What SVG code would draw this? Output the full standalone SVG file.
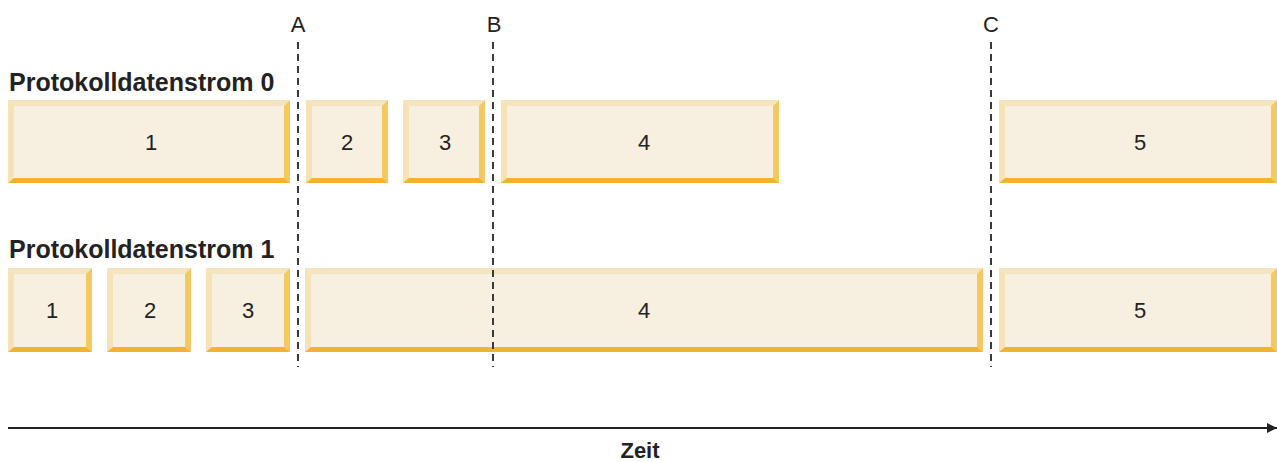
<svg xmlns="http://www.w3.org/2000/svg" width="1277" height="462" viewBox="0 0 1277 462">
<style>
.face{fill:#f7efdf}
.bt{fill:#f5e4c0}
.bl{fill:#f6e2b6}
.br{fill:#f4c95f}
.bb{fill:#f4b22e}
.num{font-family:"Liberation Sans",Arial,sans-serif;font-size:22px;fill:#222;text-anchor:middle}
.lbl{font-family:"Liberation Sans",Arial,sans-serif;font-size:25px;font-weight:bold;fill:#222}
.mark{font-family:"Liberation Sans",Arial,sans-serif;font-size:22px;fill:#222;text-anchor:middle}
.dash{stroke:#3a3a3a;stroke-width:2;stroke-dasharray:7 5;fill:none}
.axis{stroke:#222;stroke-width:2;fill:none}
</style>
<defs>
<marker id="arr" viewBox="0 0 10 10" refX="10" refY="5" markerWidth="10" markerHeight="10" markerUnits="userSpaceOnUse" orient="auto">
<path d="M0,0 L10,5 L0,10 Z" fill="#222"/>
</marker>
</defs>
<text class="lbl" x="9" y="91">Protokolldatenstrom 0</text>
<text class="lbl" x="9" y="258">Protokolldatenstrom 1</text>

<g id="s0b1">
<rect class="face" x="8" y="100" width="282" height="83"/>
<polygon class="bt" points="8,100 290,100 284,106 14,106"/>
<polygon class="bl" points="8,100 14,106 14,178 8,183"/>
<polygon class="br" points="290,100 290,183 284,178 284,106"/>
<polygon class="bb" points="8,183 14,178 284,178 290,183"/>
<text class="num" x="151" y="150">1</text>
</g>
<g id="s0b2">
<rect class="face" x="306" y="100" width="82" height="83"/>
<polygon class="bt" points="306,100 388,100 382,106 312,106"/>
<polygon class="bl" points="306,100 312,106 312,178 306,183"/>
<polygon class="br" points="388,100 388,183 382,178 382,106"/>
<polygon class="bb" points="306,183 312,178 382,178 388,183"/>
<text class="num" x="347" y="150">2</text>
</g>
<g id="s0b3">
<rect class="face" x="403" y="100" width="82" height="83"/>
<polygon class="bt" points="403,100 485,100 479,106 409,106"/>
<polygon class="bl" points="403,100 409,106 409,178 403,183"/>
<polygon class="br" points="485,100 485,183 479,178 479,106"/>
<polygon class="bb" points="403,183 409,178 479,178 485,183"/>
<text class="num" x="445" y="150">3</text>
</g>
<g id="s0b4">
<rect class="face" x="501" y="100" width="278" height="83"/>
<polygon class="bt" points="501,100 779,100 773,106 507,106"/>
<polygon class="bl" points="501,100 507,106 507,178 501,183"/>
<polygon class="br" points="779,100 779,183 773,178 773,106"/>
<polygon class="bb" points="501,183 507,178 773,178 779,183"/>
<text class="num" x="644" y="150">4</text>
</g>
<g id="s0b5">
<rect class="face" x="999" y="100" width="278" height="83"/>
<polygon class="bt" points="999,100 1277,100 1271,106 1005,106"/>
<polygon class="bl" points="999,100 1005,106 1005,178 999,183"/>
<polygon class="br" points="1277,100 1277,183 1271,178 1271,106"/>
<polygon class="bb" points="999,183 1005,178 1271,178 1277,183"/>
<text class="num" x="1140" y="150">5</text>
</g>

<g id="s1b1">
<rect class="face" x="8" y="268" width="84" height="84"/>
<polygon class="bt" points="8,268 92,268 86,274 14,274"/>
<polygon class="bl" points="8,268 14,274 14,347 8,352"/>
<polygon class="br" points="92,268 92,352 86,347 86,274"/>
<polygon class="bb" points="8,352 14,347 86,347 92,352"/>
<text class="num" x="52" y="318">1</text>
</g>
<g id="s1b2">
<rect class="face" x="107" y="268" width="84" height="84"/>
<polygon class="bt" points="107,268 191,268 185,274 113,274"/>
<polygon class="bl" points="107,268 113,274 113,347 107,352"/>
<polygon class="br" points="191,268 191,352 185,347 185,274"/>
<polygon class="bb" points="107,352 113,347 185,347 191,352"/>
<text class="num" x="150" y="318">2</text>
</g>
<g id="s1b3">
<rect class="face" x="206" y="268" width="84" height="84"/>
<polygon class="bt" points="206,268 290,268 284,274 212,274"/>
<polygon class="bl" points="206,268 212,274 212,347 206,352"/>
<polygon class="br" points="290,268 290,352 284,347 284,274"/>
<polygon class="bb" points="206,352 212,347 284,347 290,352"/>
<text class="num" x="248" y="318">3</text>
</g>
<g id="s1b4">
<rect class="face" x="305" y="268" width="678" height="84"/>
<polygon class="bt" points="305,268 983,268 977,274 311,274"/>
<polygon class="bl" points="305,268 311,274 311,347 305,352"/>
<polygon class="br" points="983,268 983,352 977,347 977,274"/>
<polygon class="bb" points="305,352 311,347 977,347 983,352"/>
<text class="num" x="644" y="318">4</text>
</g>
<g id="s1b5">
<rect class="face" x="999" y="268" width="278" height="84"/>
<polygon class="bt" points="999,268 1277,268 1271,274 1005,274"/>
<polygon class="bl" points="999,268 1005,274 1005,347 999,352"/>
<polygon class="br" points="1277,268 1277,352 1271,347 1271,274"/>
<polygon class="bb" points="999,352 1005,347 1271,347 1277,352"/>
<text class="num" x="1140" y="318">5</text>
</g>

<g id="connectors">
<line class="dash" x1="298" y1="42" x2="298" y2="367"/>
<line class="dash" x1="493" y1="42" x2="493" y2="367"/>
<line class="dash" x1="991" y1="42" x2="991" y2="367"/>
<line class="axis" x1="8" y1="428" x2="1277" y2="428" marker-end="url(#arr)"/>
</g>
<text class="mark" x="298" y="32">A</text>
<text class="mark" x="494" y="32">B</text>
<text class="mark" x="991" y="32">C</text>
<text class="lbl" x="640" y="458" text-anchor="middle" style="font-size:22px">Zeit</text>
</svg>
